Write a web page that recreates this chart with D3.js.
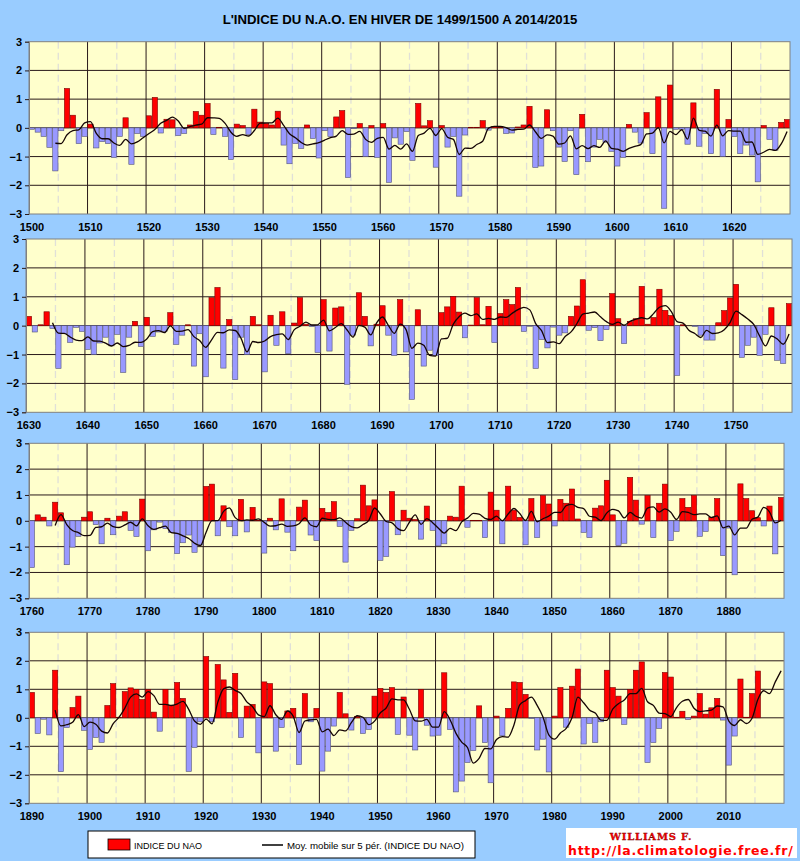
<!DOCTYPE html>
<html><head><meta charset="utf-8">
<script src="https://cdn.jsdelivr.net/npm/d3@7"></script>
<style>body{margin:0;background:#99CCFF;}svg{display:block}</style>
</head><body><svg id="c" width="800" height="861"></svg>
<script>
// NAO winter index values
const nao1500 = [
 -0.05,-0.15,-0.3,-0.68,-1.5,  -0.1,1.37,0.44,-0.55,-0.3,
 0.13,-0.7,-0.48,-0.55,-1.03,  -0.3,0.35,-1.27,-0.2,-0.3,
 0.42,1.06,-0.18,0.3,0.28,     -0.27,-0.2,0.1,0.57,0.44,
 0.85,-0.23,0.02,-0.3,-1.1,    0.13,0.08,-0.23,0.65,0.2,
 0.15,0.1,0.58,-0.6,-1.25,     -0.55,-0.72,0.1,-0.37,-1.05,
 -0.1,-0.3,0.38,0.6,-1.73,     -0.03,0.15,-1.0,0.08,-1.03,
 0.15,-1.9,-0.35,-0.57,-0.13,  -1.13,0.85,0.07,0.25,-1.37,
 0.08,-0.67,-0.3,-2.38,-0.25,  0.02,0.02,0.25,-0.08,0.05,
 0.02,-0.2,-0.18,0.03,0.1,     0.75,-1.38,-1.33,0.63,-0.1,
 -0.67,-1.17,-0.1,-1.63,0.47,  -1.18,-0.67,-0.4,-0.5,-0.82,
 -1.33,-1.03,0.12,-0.15,-0.53, 0.53,-0.9,1.08,-2.8,1.49,
 -0.05,-0.05,-0.57,0.87,-0.64, -0.2,-0.9,1.34,-1.0,0.29,
 -0.3,-0.9,-0.6,-0.95,-1.88,   0.08,-0.4,-0.78,0.19,0.29
];
const nao1630 = [
 0.32,-0.22,0.03,0.48,-0.1,    -1.48,-0.28,-0.58,-0.06,-0.2,
 -0.82,-1.0,-0.6,-0.4,-0.7,    -0.3,-1.62,-0.4,0.15,-0.72,
 0.29,-0.37,-0.22,-0.2,0.45,   -0.65,-0.33,0.03,-1.4,-0.28,
 -1.77,0.97,1.32,-1.47,0.21,   -1.87,-0.4,-1.0,0.32,0.03,
 -1.6,0.36,-0.68,0.48,-0.97,   0.09,0.97,0.05,-0.03,-0.93,
 0.9,-0.88,0.61,0.65,-2.03,    -0.33,1.14,0.32,-0.7,0.05,
 0.69,-0.33,-1.03,0.9,-0.91,   -2.55,0.55,-1.4,-0.85,-1.03,
 0.45,0.65,1.01,0.47,-0.42,    0.02,0.97,0.03,0.67,-0.59,
 0.42,0.9,0.73,1.32,-0.2,      -0.02,-1.48,-0.48,-0.77,-0.05,
 -0.33,-0.25,0.32,0.68,1.59,   -0.16,-0.07,-0.52,-0.14,1.11,
 0.24,-0.62,0.15,0.24,1.36,    0.05,0.28,1.26,0.53,0.35,
 -1.72,0.03,0.0,-0.03,-0.33,   -0.5,-0.5,0.1,0.52,0.96,
 1.43,-1.1,-0.68,-0.4,-1.03,   -0.3,0.62,-1.2,-1.31,0.76
];
const nao1760 = [
 -1.81,0.23,0.14,-0.2,0.72,    0.31,-1.7,-1.02,-0.6,0.14,
 0.35,-0.15,-0.89,0.1,-0.54,   0.18,0.35,-0.37,-0.61,0.84,
 -1.16,-0.35,-0.05,-0.3,-0.45, -1.27,-0.85,-0.55,-1.22,-0.93,
 1.33,1.42,-0.58,0.58,-0.23,   -0.58,0.83,-0.43,0.52,0.02,
 -1.25,0.1,-0.35,0.85,-0.44,   -1.16,0.53,0.8,-0.55,-0.77,
 0.48,0.32,0.74,-0.22,-1.6,    -0.37,0.08,1.38,0.58,0.81,
 -1.53,-1.38,1.13,-0.54,0.41,  0.1,0.05,-0.71,0.57,-0.37,
 -0.97,-0.89,0.18,0.14,1.34,   -0.25,0.02,0.02,-0.65,1.11,
 0.41,-0.89,1.34,0.41,0.13,    -0.93,0.86,-0.65,0.98,0.65,
 -0.2,0.83,0.68,1.23,0.07,     -0.45,-0.65,0.49,0.58,1.57,
 0.23,-0.96,-0.87,1.68,0.8,    -0.13,0.98,-0.65,0.68,1.42,
 -0.77,-0.41,0.86,0.52,0.98,   -0.6,-0.41,0.14,0.86,-1.35,
 -0.28,-2.09,1.43,0.86,0.39,   0.12,-0.2,0.57,-1.28,0.9
];
const nao1890 = [
 0.89,-0.55,-0.05,-0.6,1.67,   -1.89,-0.34,0.36,0.76,-0.44,
 -1.11,-0.69,-0.86,0.43,1.2,   0.02,0.92,1.05,1.0,0.64,
 0.99,0.2,-0.47,1.0,0.44,      1.24,0.68,-1.88,-1.04,-0.14,
 2.15,-0.14,1.87,1.33,0.19,    1.56,-0.69,0.41,0.47,-1.23,
 1.26,1.2,-1.17,-0.34,0.24,    0.33,-1.64,0.85,-0.14,0.33,
 -1.87,-1.17,-0.29,0.89,0.14,  -0.43,0.05,-0.55,-0.41,0.76,
 1.03,0.89,1.06,-0.58,0.73,    -0.61,-1.13,1.0,-0.26,-0.64,
 -0.61,1.58,-0.41,-2.6,-2.22,  -1.57,-1.15,0.42,-0.87,-2.28,
 0.06,-0.63,0.33,1.26,1.24,    0.82,-0.02,-1.13,-0.75,-1.9,
 0.06,1.06,-0.33,1.11,1.71,    -0.92,-0.2,-0.87,-0.14,1.67,
 1.06,0.76,-0.23,0.99,1.67,    1.96,-1.57,-0.87,-0.37,1.59,
 1.43,0.02,0.23,-0.06,0.06,    0.85,0.13,0.35,0.68,-0.08,
 -1.66,-0.64,1.36,0.02,0.85,   1.64
];
// moving-average points drawn past the last bar (2016-2019)
const maTail1890 = [0.95, 0.85, 1.26, 1.65];
const panelStarts = [1500, 1630, 1760, 1890];
const panelValues = [nao1500, nao1630, nao1760, nao1890];
const panelTails = [[], [], [], maTail1890];
const yTicks = [-3, -2, -1, 0, 1, 2, 3];
const titleText = "L'INDICE DU N.A.O. EN HIVER DE 1499/1500 A 2014/2015";
const legendBars = "INDICE DU NAO";
const legendLine = "Moy. mobile sur 5 pér. (INDICE DU NAO)";
const authorText = "WILLIAMS F.";
const urlText = "http://la.climatologie.free.fr/";

// layout (pixels)
const boxes = [
  {left:29, right:790, top:41.7, bottom:214},
  {left:26, right:792, top:239, bottom:412.3},
  {left:29, right:784, top:443.3, bottom:598.3},
  {left:29, right:784, top:632.3, bottom:803.3}
];
const SPAN = 130;
const FONT = "'Liberation Sans', Arial, sans-serif";

const svg = d3.select('#c');
svg.append('rect').attr('width',800).attr('height',861).attr('fill','#99CCFF');

svg.append('text').attr('x',400).attr('y',24).attr('text-anchor','middle')
  .attr('font-family',FONT).attr('font-weight','bold').attr('font-size',13.2)
  .attr('fill','#000').text(titleText);

panelStarts.forEach((start, pi) => {
  const b = boxes[pi];
  const vals = panelValues[pi];
  const years = d3.range(start, start + SPAN);
  const x = d3.scaleBand().domain(years).range([b.left, b.right]).paddingInner(0).paddingOuter(0);
  const y = d3.scaleLinear().domain([-3, 3]).range([b.bottom, b.top]);
  const bw = x.bandwidth();
  const g = svg.append('g');

  g.append('rect').attr('x',b.left).attr('y',b.top).attr('width',b.right-b.left).attr('height',b.bottom-b.top)
    .attr('fill','#FFFFCC');

  // minor (5-year) dashed vertical gridlines
  g.selectAll('.vmin').data(years.filter(d => d % 10 === 5)).enter().append('line')
    .attr('x1', d => x(d)).attr('x2', d => x(d)).attr('y1', b.top).attr('y2', b.bottom)
    .attr('stroke','#e0e0d8').attr('stroke-width',1.3).attr('stroke-dasharray','7,4');
  // major (10-year) vertical gridlines
  g.selectAll('.vmaj').data(years.filter(d => d % 10 === 0 && d !== start)).enter().append('line')
    .attr('x1', d => x(d)).attr('x2', d => x(d)).attr('y1', b.top).attr('y2', b.bottom)
    .attr('stroke','#2a1a1a').attr('stroke-width',1);
  // horizontal gridlines
  g.selectAll('.hg').data(yTicks.filter(t => t > -3 && t < 3)).enter().append('line')
    .attr('x1', b.left).attr('x2', b.right).attr('y1', d => y(d)).attr('y2', d => y(d))
    .attr('stroke','#2a1a1a').attr('stroke-width',1);

  // bars
  const data = vals.map((v, i) => ({year: years[i], v}));
  g.selectAll('.bar').data(data).enter().append('rect')
    .attr('x', d => x(d.year) + 0.3)
    .attr('width', bw - 0.6)
    .attr('y', d => d.v >= 0 ? y(d.v) : y(0))
    .attr('height', d => Math.abs(y(d.v) - y(0)))
    .attr('fill', d => d.v >= 0 ? '#FF0000' : '#9999FF')
    .attr('stroke', d => d.v >= 0 ? '#7a0000' : '#555577')
    .attr('stroke-width', 0.6);

  // 5-period trailing moving average
  const ma = [];
  for (let i = 4; i < vals.length; i++) {
    ma.push({year: years[i], v: d3.mean(vals.slice(i - 4, i + 1))});
  }
  panelTails[pi].forEach((v, j) => ma.push({year: years[vals.length + j], v}));
  g.append('path').datum(ma)
    .attr('d', d3.line().x(d => x(d.year) + bw / 2).y(d => y(d.v)).curve(d3.curveMonotoneX))
    .attr('fill','none').attr('stroke','#150505').attr('stroke-width',1.3);

  // plot border
  g.append('rect').attr('x',b.left).attr('y',b.top).attr('width',b.right-b.left).attr('height',b.bottom-b.top)
    .attr('fill','none').attr('stroke','#808080').attr('stroke-width',1);

  // y axis
  const ya = g.append('g').attr('transform', `translate(${b.left},0)`)
    .call(d3.axisLeft(y).tickValues(yTicks).tickSize(4).tickPadding(3).tickFormat(d3.format('d')));
  ya.select('.domain').attr('stroke','#808080');
  ya.selectAll('.tick line').attr('stroke','#2a1a1a');
  ya.selectAll('text').attr('font-family',FONT).attr('font-weight','bold').attr('font-size',11).attr('fill','#000');

  // x axis labels
  const xa = g.append('g').attr('transform', `translate(0,${b.bottom})`)
    .call(d3.axisBottom(x).tickValues(years.filter(d => d % 10 === 0)).tickSize(0).tickPadding(9));
  xa.select('.domain').remove();
  xa.selectAll('text').attr('font-family',FONT).attr('font-weight','bold').attr('font-size',11).attr('fill','#000');
});

// legend
const lg = svg.append('g');
lg.append('rect').attr('x',88).attr('y',831).attr('width',387).attr('height',27)
  .attr('fill','#FFFFFF').attr('stroke','#000').attr('stroke-width',1);
lg.append('rect').attr('x',108).attr('y',839).attr('width',22).attr('height',11)
  .attr('fill','#FF0000').attr('stroke','#000').attr('stroke-width',0.8);
lg.append('text').attr('x',134).attr('y',849).attr('font-family',FONT).attr('font-size',9)
  .attr('fill','#000').text(legendBars);
lg.append('line').attr('x1',262).attr('x2',283).attr('y1',845).attr('y2',845)
  .attr('stroke','#000').attr('stroke-width',1.5);
lg.append('text').attr('x',287).attr('y',849).attr('font-family',FONT).attr('font-size',9.7)
  .attr('fill','#000').text(legendLine);

// author box
const ab = svg.append('g');
ab.append('rect').attr('x',566).attr('y',828).attr('width',231).attr('height',30).attr('fill','#FFFFFF');
ab.append('text').attr('x',651).attr('y',840).attr('text-anchor','middle')
  .attr('font-family',"'DejaVu Serif', serif").attr('font-weight','bold').attr('font-size',10)
  .attr('letter-spacing',0.8).attr('fill','#FF0000').attr('stroke','#700000').attr('stroke-width',0.3)
  .text(authorText);
ab.append('text').attr('x',568).attr('y',855)
  .attr('font-family',"'DejaVu Sans', sans-serif").attr('font-weight','bold').attr('font-size',12.5)
  .attr('letter-spacing',0.75)
  .attr('fill','#FF0000').text(urlText);
</script></body></html>
